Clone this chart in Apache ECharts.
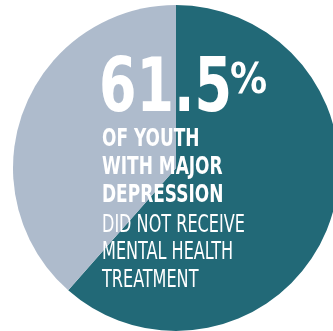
<!DOCTYPE html>
<html>
<head>
<meta charset="utf-8">
<script src="https://cdn.jsdelivr.net/npm/echarts@6/dist/echarts.min.js"></script>
<style>
  html, body { margin: 0; padding: 0; background: #fff; }
  #chart { width: 333px; height: 331px; }
</style>
</head>
<body>
<div id="chart"></div>
<script>
// pie data: share of youth with major depression
const categories = ['Did not receive treatment', 'Received treatment'];
const values = [61.5, 38.5];
const colors = ['#226977', '#aebbcc'];

// overlay text
const headline = '61.5';
const boldLines = ['OF YOUTH', 'WITH MAJOR', 'DEPRESSION'];
const lightLines = ['DID NOT RECEIVE', 'MENTAL HEALTH', 'TREATMENT'];

const FONT = '"Liberation Sans Narrow", "DejaVu Sans Condensed", sans-serif';

const chart = echarts.init(document.getElementById('chart'));

const textX = 102;
const graphics = [
  {
    type: 'text', x: 99, y: 92, scaleX: 0.81, z: 100,
    style: { text: headline, fill: '#fff', font: 'bold 74px ' + FONT, textVerticalAlign: 'middle' }
  },
  {
    type: 'text', x: 230, y: 82, scaleX: 0.98, z: 100,
    style: { text: '%', fill: '#fff', font: 'bold 42px ' + FONT, textVerticalAlign: 'middle' }
  }
];
boldLines.forEach((t, i) => {
  graphics.push({
    type: 'text', x: textX, y: 139 + i * 28, scaleX: 0.755, z: 100,
    style: { text: t, fill: '#fff', font: 'bold 25px ' + FONT, textVerticalAlign: 'middle' }
  });
});
lightLines.forEach((t, i) => {
  graphics.push({
    type: 'text', x: textX, y: 225 + i * 27.5, scaleX: 0.715, z: 100,
    style: { text: t, fill: '#fff', font: '25px ' + FONT, textVerticalAlign: 'middle' }
  });
});

chart.setOption({
  animation: false,
  color: colors,
  series: [{
    type: 'pie',
    center: [176, 168],
    radius: 163,
    startAngle: 90,
    clockwise: true,
    silent: true,
    label: { show: false },
    labelLine: { show: false },
    data: categories.map((c, i) => ({ name: c, value: values[i] }))
  }],
  graphic: { elements: graphics }
});
</script>
</body>
</html>
